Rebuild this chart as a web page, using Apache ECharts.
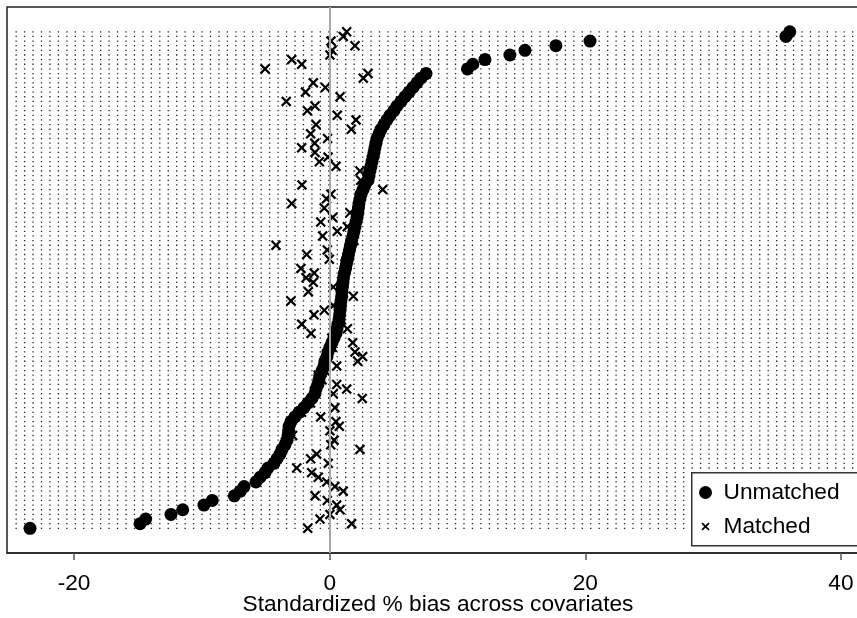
<!DOCTYPE html>
<html>
<head>
<meta charset="utf-8">
<script src="https://cdn.jsdelivr.net/npm/echarts@6/dist/echarts.min.js"></script>
<style>
html,body{margin:0;padding:0;background:#fff;}
#chart{width:857px;height:618px;}
</style>
</head>
<body>
<div id="chart"></div>
<script>
// standardized % bias per covariate, sorted by unmatched bias (bottom row first)
const unmatched = [
  -23.45, -14.84, -14.40, -12.42, -11.50, -9.84, -9.19, -7.46, -7.00, -6.70,
  -5.77, -5.45, -5.06, -4.83, -4.36, -4.12, -3.89, -3.73, -3.50, -3.34,
  -3.26, -3.22, -3.18, -3.03, -2.72, -2.40, -2.01, -1.70, -1.39, -1.15,
  -1.07, -0.92, -0.84, -0.76, -0.60, -0.45, -0.37, -0.21, -0.13, 0.02,
  0.18, 0.34, 0.49, 0.57, 0.65, 0.73, 0.77, 0.81, 0.85, 0.88,
  0.94, 0.96, 1.00, 1.04, 1.08, 1.16, 1.24, 1.31, 1.39, 1.47,
  1.55, 1.63, 1.71, 1.82, 1.90, 1.98, 2.06, 2.14, 2.21, 2.25,
  2.29, 2.37, 2.45, 2.61, 2.76, 3.00, 3.08, 3.15, 3.23, 3.31,
  3.39, 3.47, 3.54, 3.62, 3.70, 3.86, 4.01, 4.25, 4.48, 4.72,
  5.03, 5.27, 5.58, 5.89, 6.21, 6.52, 6.83, 7.14, 7.54, 10.78,
  11.20, 12.15, 14.10, 15.28, 17.70, 20.37, 35.70, 36.00
];
const matched = [
  -1.72, 1.72, -0.76, 0.02, 0.81, 0.55, -0.19, -1.15, 1.06, 0.41,
  -0.23, -0.89, -1.41, -2.58, -0.11, -1.49, -1.02, 2.37, 0.08, 0.34,
  -2.90, 0.02, 0.75, 0.49, -0.70, -2.20, 0.41, -1.50, 2.55, 0.28,
  1.33, 0.55, -0.60, -0.90, -0.40, 0.55, 2.19, 2.58, 1.98, 0.20,
  1.80, 0.16, -1.46, 1.38, -2.19, 0.90, -1.23, -0.42, 0.28, -3.03,
  1.85, -1.67, 0.28, -1.28, -1.85, -1.21, -2.25, 1.20, -0.03, -1.80,
  -0.19, -4.20, 1.90, -0.55, 0.59, 1.38, -0.70, 0.23, 1.59, -0.42,
  -2.97, -0.25, 0.10, 4.15, -2.17, 2.43, 3.00, 2.37, 0.49, -0.81,
  -0.13, -1.15, -2.19, -1.17, -0.17, -1.49, 1.69, -1.07, 2.06, 0.59,
  -1.75, -1.15, -3.40, 0.81, -1.89, -0.34, -1.28, 2.63, 3.00, -5.06,
  -2.19, -2.97, 0.02, 0.18, 1.98, 0.10, 1.06, 1.33
];
const xTicks = [-20, 0, 20, 40];

const font = "'Liberation Sans', Arial, sans-serif";
const cross = 'path://M0,1.5L1.5,0L5,3.5L8.5,0L10,1.5L6.5,5L10,8.5L8.5,10L5,6.5L1.5,10L0,8.5L3.5,5Z';
// same cross, padded so the legend icon comes out smaller
const crossSmall = 'path://M-3,-3M13,13M0,1.5L1.5,0L5,3.5L8.5,0L10,1.5L6.5,5L10,8.5L8.5,10L5,6.5L1.5,10L0,8.5L3.5,5Z';

let rows = unmatched.map((v, i) => [0, i + 1]);
let uData = unmatched.map((v, i) => [v, i + 1]);
let mData = matched.map((v, i) => [v, i + 1]);

let chart = echarts.init(document.getElementById('chart'));
let option = {
  animation: false,
  backgroundColor: '#fff',
  grid: {
    left: 7, top: 7, width: 862, height: 546,
    outerBoundsMode: 'none',
    show: true, borderColor: '#222', borderWidth: 1.5
  },
  xAxis: {
    type: 'value',
    min: -25.25,
    max: 42.2,
    splitLine: {show: false},
    axisLine: {show: true, onZero: false, lineStyle: {color: '#222', width: 1.5}},
    axisTick: {show: true, customValues: xTicks, length: 7, lineStyle: {color: '#555', width: 1.5}},
    axisLabel: {customValues: xTicks, fontSize: 22.7, color: '#000', fontFamily: font, margin: 19},
    name: 'Standardized % bias across covariates',
    nameLocation: 'middle',
    nameMoveOverlap: false,
    nameGap: 40,
    nameTextStyle: {fontSize: 22.7, color: '#000', fontFamily: font}
  },
  yAxis: {
    type: 'value',
    min: -4.32,
    max: 113.34,
    show: false
  },
  // legend frame runs off the right edge like the reference
  graphic: [{
    type: 'rect',
    left: 691,
    top: 472,
    z: 10,
    shape: {width: 190, height: 73},
    style: {fill: '#fff', stroke: '#333', lineWidth: 1.5}
  }],
  legend: {
    orient: 'vertical',
    left: 699,
    top: 481,
    z: 20,
    padding: 0,
    itemGap: 11,
    itemWidth: 26,
    itemHeight: 13,
    textStyle: {fontSize: 22.7, color: '#000', fontFamily: font},
    data: [
      {name: 'Unmatched', icon: 'circle'},
      {name: 'Matched', icon: crossSmall}
    ]
  },
  series: [
    {
      // one dotted line for each covariate row
      type: 'custom',
      silent: true,
      z: 1,
      data: rows,
      renderItem: function (params, api) {
        let cs = params.coordSys;
        let y = api.coord([0, api.value(1)])[1];
        return {
          type: 'line',
          shape: {x1: cs.x + 8.5, y1: y, x2: cs.x + cs.width, y2: y},
          style: {stroke: '#222', lineWidth: 1.3, lineDash: [1.3, 7.15]}
        };
      },
      markLine: {
        silent: true,
        symbol: ['none', 'none'],
        label: {show: false},
        lineStyle: {color: '#a8a8a8', width: 2, type: 'solid'},
        data: [{xAxis: 0}]
      }
    },
    {
      name: 'Unmatched',
      type: 'scatter',
      silent: true,
      z: 3,
      symbol: 'circle',
      symbolSize: 13,
      itemStyle: {color: '#000', opacity: 1},
      data: uData
    },
    {
      name: 'Matched',
      type: 'scatter',
      silent: true,
      z: 4,
      symbol: cross,
      symbolSize: 10.5,
      itemStyle: {color: '#000', opacity: 1},
      data: mData
    }
  ]
};
chart.setOption(option);
</script>
</body>
</html>
